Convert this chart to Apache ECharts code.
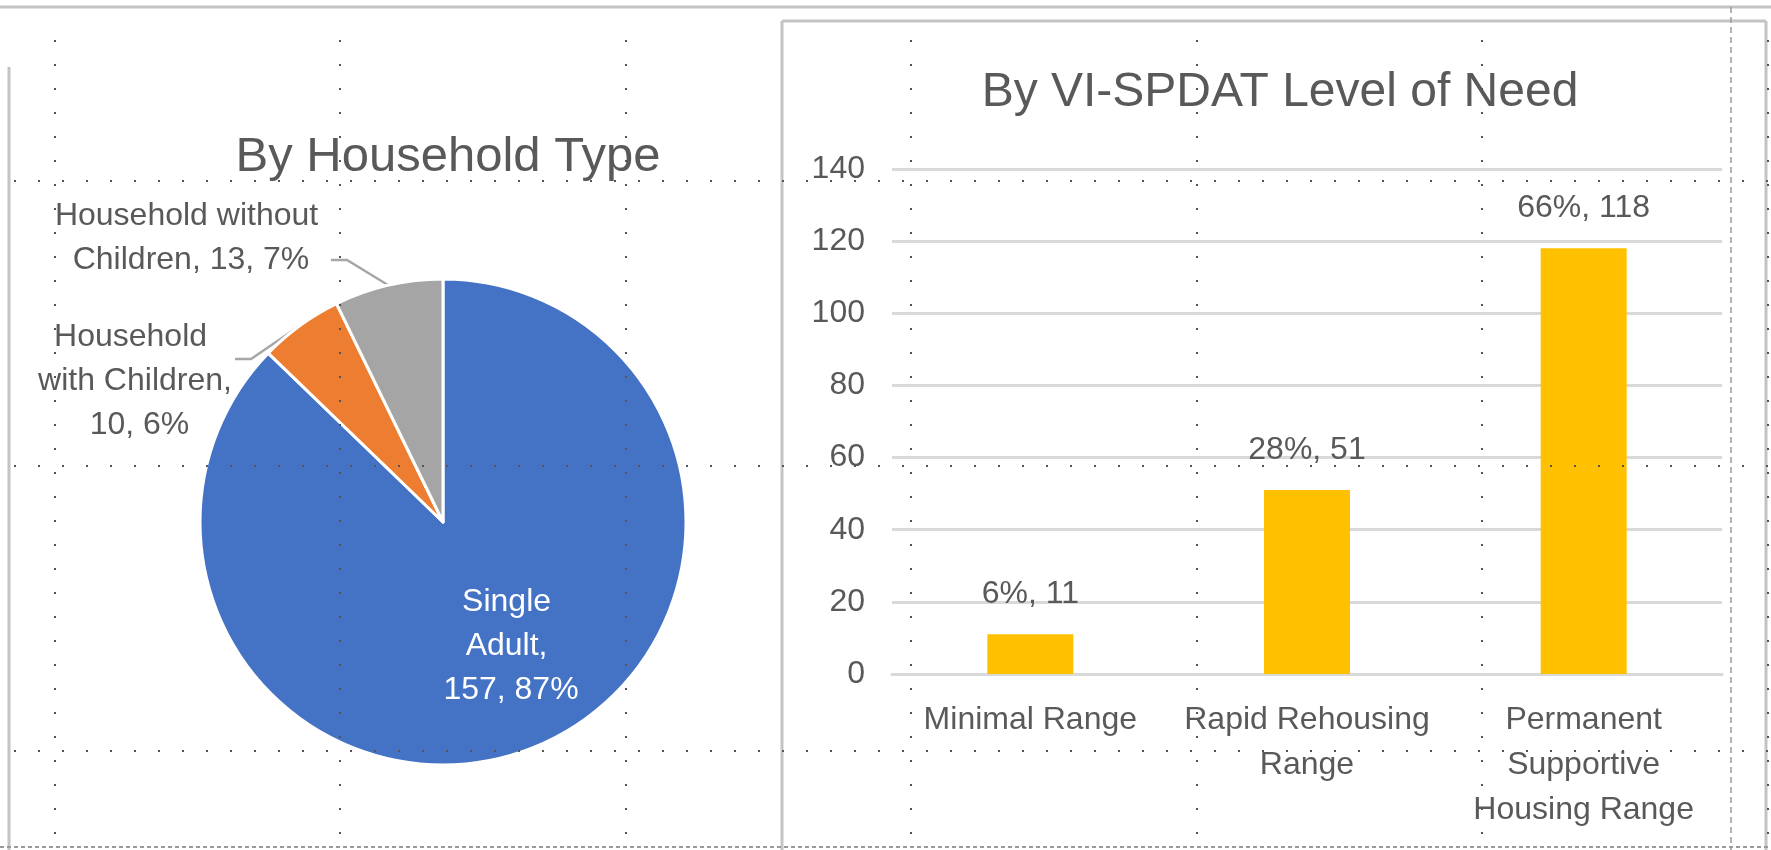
<!DOCTYPE html>
<html>
<head>
<meta charset="utf-8">
<script src="https://cdn.jsdelivr.net/npm/echarts@6/dist/echarts.min.js"></script>
<style>
html, body { margin: 0; padding: 0; background: #fff; }
#chart { width: 1771px; height: 850px; }
</style>
</head>
<body>
<div id="chart"></div>
<script>
// By Household Type
var householdTypes = ['Single Adult', 'Household with Children', 'Household without Children'];
var householdCounts = [157, 10, 13];

// By VI-SPDAT Level of Need
var needLevels = ['Minimal Range', 'Rapid Rehousing\nRange', 'Permanent\nSupportive\nHousing Range'];
var needCounts = [11, 51, 118];

var pieColors = ['#4472C4', '#ED7D31', '#A5A5A5'];
var barColor = '#FFC000';
var textGray = '#595959';
var font = 'Liberation Sans';

var needTotal = needCounts.reduce(function (a, b) { return a + b; }, 0);

// where Excel put the pie labels and how wide they wrap.
// an empty line above/below shifts the label box so the leader line
// meets it at the same height as in Excel
var pieLabelSpots = [[511, 646], [135, 359], [191, 260]];
var pieLabelWidths = [140, 200, 280];
var pieLabelLead = ['', '\n', ''];
var pieLabelTail = ['', '', '\n\u00a0'];

/**
 * dotted page-break lines and sheet borders around the charts
 */
function sheetDecor() {
    var out = [];
    var cols = [55, 340, 626, 911, 1197, 1482, 1768];
    var rows = [181, 466, 751];
    var dotStyle = { stroke: '#555', lineWidth: 2, lineDash: [2, 22] };
    cols.forEach(function (x) {
        out.push({ type: 'line', z: 100, silent: true,
            shape: { x1: x, y1: 40, x2: x, y2: 850 }, style: dotStyle });
    });
    rows.forEach(function (y) {
        out.push({ type: 'line', z: 100, silent: true,
            shape: { x1: 14, y1: y, x2: 1771, y2: y }, style: dotStyle });
    });
    var border = { stroke: '#c4c4c4', lineWidth: 3 };
    out.push({ type: 'line', silent: true, shape: { x1: 0, y1: 7, x2: 1771, y2: 7 }, style: border });
    out.push({ type: 'line', silent: true, shape: { x1: 9, y1: 67, x2: 9, y2: 850 }, style: border });
    out.push({ type: 'line', silent: true, shape: { x1: 782, y1: 21, x2: 782, y2: 850 }, style: border });
    out.push({ type: 'line', silent: true, shape: { x1: 782, y1: 21, x2: 1766, y2: 21 }, style: border });
    out.push({ type: 'line', silent: true, shape: { x1: 1766, y1: 21, x2: 1766, y2: 850 }, style: border });
    out.push({ type: 'line', silent: true, shape: { x1: 0, y1: 847, x2: 1771, y2: 847 },
        style: { stroke: '#9a9a9a', lineWidth: 2, lineDash: [4, 3] } });
    out.push({ type: 'line', silent: true, shape: { x1: 1731, y1: 7, x2: 1731, y2: 850 },
        style: { stroke: '#9a9a9a', lineWidth: 1.5, lineDash: [6, 4] } });
    return out;
}

var pieData = householdTypes.map(function (name, i) {
    return {
        name: name,
        value: householdCounts[i],
        itemStyle: { color: pieColors[i] },
        label: {
            width: pieLabelWidths[i],
            color: i === 0 ? '#fff' : textGray
        }
    };
});

var chart = echarts.init(document.getElementById('chart'));
chart.setOption({
    animation: false,
    textStyle: { fontFamily: font },
    title: [{
        text: 'By Household Type',
        left: 443, top: 152, textAlign: 'center', textVerticalAlign: 'middle',
        textStyle: { fontFamily: font, fontSize: 49, fontWeight: 'normal', color: textGray }
    }, {
        text: 'By VI-SPDAT Level of Need',
        left: 1275, top: 88, textAlign: 'center', textVerticalAlign: 'middle',
        textStyle: { fontFamily: font, fontSize: 48, fontWeight: 'normal', color: textGray }
    }],
    grid: { left: 892, right: 49, top: 169, bottom: 176 },
    xAxis: {
        type: 'category',
        data: needLevels,
        axisLine: { lineStyle: { color: '#d9d9d9', width: 3 } },
        axisTick: { show: false },
        axisLabel: { fontSize: 32, lineHeight: 45, color: textGray, margin: 24, interval: 0 }
    },
    yAxis: {
        type: 'value',
        min: 0, max: 140, interval: 20,
        axisLine: { show: false },
        axisTick: { show: false },
        axisLabel: { fontSize: 32, color: textGray, margin: 27 },
        splitLine: { lineStyle: { color: '#d9d9d9', width: 3 } }
    },
    graphic: sheetDecor(),
    series: [{
        type: 'pie',
        center: [443, 522],
        radius: 243,
        startAngle: 90,
        clockwise: true,
        data: pieData,
        itemStyle: { borderColor: '#fff', borderWidth: 3 },
        label: {
            show: true,
            position: 'outside',
            fontSize: 32,
            lineHeight: 44,
            overflow: 'break',
            align: 'center',
            backgroundColor: 'rgba(255,255,255,0)',
            formatter: function (p) {
                return pieLabelLead[p.dataIndex] + p.name + ', ' + p.value + ', ' +
                    Math.round(p.percent) + '%' + pieLabelTail[p.dataIndex];
            }
        },
        labelLine: { show: true, length: 15, length2: 16, lineStyle: { color: '#a6a6a6', width: 2.5 } },
        labelLayout: function (p) {
            var s = pieLabelSpots[p.dataIndex];
            return { x: s[0], y: s[1], align: 'center', verticalAlign: 'middle' };
        },
        emphasis: { disabled: true }
    }, {
        type: 'bar',
        data: needCounts,
        barWidth: 86,
        itemStyle: { color: barColor },
        label: {
            show: true,
            position: 'top',
            distance: 24,
            fontSize: 32,
            color: textGray,
            formatter: function (p) {
                return Math.round(p.value / needTotal * 100) + '%, ' + p.value;
            }
        },
        emphasis: { disabled: true }
    }]
});
</script>
</body>
</html>
